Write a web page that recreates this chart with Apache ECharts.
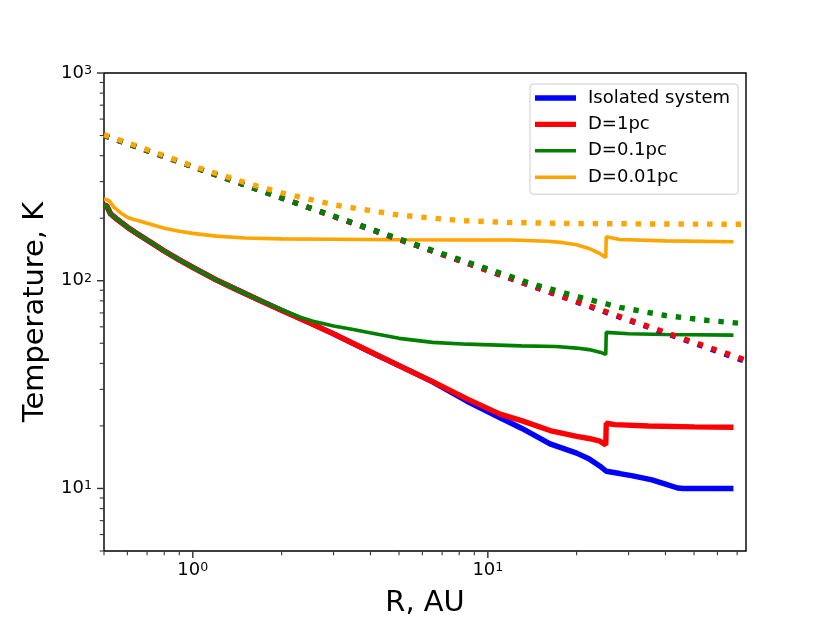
<!DOCTYPE html>
<html>
<head>
<meta charset="utf-8">
<script src="https://cdn.jsdelivr.net/npm/echarts@6/dist/echarts.min.js"></script>
<style>
  html, body { margin: 0; padding: 0; background: #fff; }
  #chart { width: 830px; height: 623px; }
</style>
</head>
<body>
<div id="chart"></div>
<script>
// radius in AU, temperature in K
const rIsolated = [0.5, 0.51, 0.515, 0.526, 0.55, 0.6, 0.65, 0.7, 0.8, 0.9, 1.0, 1.2, 1.4, 1.7, 2.0, 2.5, 3, 4, 5, 6.5, 8.5, 11, 13, 16.25, 20, 22, 24, 25.2, 28, 31, 36, 40, 44, 46, 68];
const tIsolated = [231, 230, 228, 210, 199, 181, 168, 157, 139, 126, 116, 101, 91, 80, 72, 62.5, 55.5, 45.3, 39, 32.6, 26.3, 21.9, 19.5, 16.4, 14.8, 13.9, 12.8, 12.1, 11.8, 11.5, 11.0, 10.5, 10.05, 10.0, 10.0];

const rD1 = [0.5, 0.51, 0.515, 0.526, 0.55, 0.6, 0.65, 0.7, 0.8, 0.9, 1.0, 1.2, 1.4, 1.7, 2.0, 2.5, 3, 4, 5, 6.5, 8.5, 11, 13, 16.25, 20, 22, 24, 25.1, 25.2, 27, 35, 50, 68];
const tD1 = [231, 230, 228, 210, 199, 181, 168, 157, 139, 126, 116, 101, 91, 80, 72, 62.5, 55.5, 45.5, 39, 32.7, 27.0, 22.8, 21.2, 19.0, 17.8, 17.4, 16.9, 16.2, 20.6, 20.3, 20.0, 19.8, 19.7];

const rD01 = [0.5, 0.51, 0.515, 0.526, 0.55, 0.6, 0.65, 0.7, 0.8, 0.9, 1.0, 1.2, 1.4, 1.7, 1.9, 2.1, 2.3, 2.6, 3, 3.5, 3.9, 5, 6.5, 8.5, 13, 17, 20, 22, 24, 25.1, 25.2, 30, 40, 68];
const tD01 = [231, 230, 228, 210, 199, 181, 168, 157, 139, 126, 116, 101, 91, 80.2, 74.8, 70.6, 66.9, 63.4, 60.5, 58.2, 56.5, 52.8, 50.5, 49.5, 48.6, 48.2, 47.4, 46.6, 45.3, 44.2, 56.4, 55.6, 55.1, 54.7];

const rD001 = [0.5, 0.51, 0.52, 0.54, 0.57, 0.6, 0.63, 0.66, 0.7, 0.8, 0.9, 1.0, 1.2, 1.5, 2, 3, 5, 8, 12, 16, 18, 20, 22, 24, 25.1, 25.2, 28, 40, 68];
const tD001 = [247, 246, 243, 226, 212, 202, 197, 194, 189, 179, 173, 169, 164, 160.5, 159, 158.5, 157.5, 157, 157, 155, 152.5, 149, 143, 135, 129.5, 163, 158, 155.5, 154];

// dotted curves
const rIsoDot = [0.5, 1, 2, 5, 10, 20, 30, 50, 75];
const tIsoDot = [500, 354, 250, 158, 112, 79, 64.5, 50, 40.8];
const rD1Dot = [0.5, 1, 2, 5, 10, 20, 30, 50, 75];
const tD1Dot = [500, 354, 250, 158, 112, 79.5, 65, 50.5, 41.5];
const rD01Dot = [0.5, 1, 2, 3, 5, 7, 10, 14, 20, 28, 40, 55, 75];
const tD01Dot = [500, 354, 250, 205, 159, 135, 114, 97, 84, 74.5, 68, 64.5, 62];
const rD001Dot = [0.5, 0.7, 1, 1.5, 2, 3, 5, 8, 12, 20, 40, 75];
const tD001Dot = [505, 428, 357, 297, 265, 232, 207, 195, 190.5, 188.5, 187.5, 187];

const names = ['Isolated system', 'D=1pc', 'D=0.1pc', 'D=0.01pc'];
const colors = ['#0000ff', '#ff0000', '#008000', '#ffa500'];

const xMajorTicks = [1, 10];
const xMinorTicks = [0.5, 0.6, 0.7, 0.8, 0.9, 2, 3, 4, 5, 6, 7, 8, 9, 20, 30, 40, 50, 60, 70];
const yMajorTicks = [10, 100, 1000];
const yMinorTicks = [5, 6, 7, 8, 9, 20, 30, 40, 50, 60, 70, 80, 90, 200, 300, 400, 500, 600, 700, 800, 900];

// legend handles: a bar inside a 41x14 box (the M points keep the box size)
const thickHandle = 'path://M0,0M0,4.3L41,4.3L41,9.7L0,9.7ZM41,14';
const thinHandle = 'path://M0,0M0,5.2L41,5.2L41,8.8L0,8.8ZM41,14';

function zip(r, t) {
  return r.map((v, i) => [v, t[i]]);
}

function curve(name, r, t, color, width, dotted) {
  return {
    name: name,
    type: 'line',
    data: zip(r, t),
    symbol: 'none',
    showSymbol: false,
    lineStyle: {
      color: color,
      width: width,
      type: dotted ? [5.4, 8.9] : 'solid',
      cap: 'butt'
    },
    itemStyle: { color: color },
    silent: true
  };
}

function ticks(vals, onX, len, w) {
  return {
    type: 'scatter',
    data: vals.map(v => onX ? [v, 5] : [0.5, v]),
    symbol: 'rect',
    symbolSize: onX ? [w, len] : [len, w],
    symbolOffset: onX ? [0, len / 2 + 0.7] : [-(len / 2 + 0.7), 0],
    itemStyle: { color: '#000' },
    clip: false,
    silent: true,
    z: 5
  };
}

function powLabel(v) {
  const e = Math.round(Math.log10(v));
  return '{a|10}{b|' + e + '}';
}

const labelRich = {
  a: { fontSize: 18, color: '#000', fontFamily: 'DejaVu Sans' },
  b: { fontSize: 12.6, color: '#000', fontFamily: 'DejaVu Sans', verticalAlign: 'top' }
};

const series = [
  curve(names[0], rIsolated, tIsolated, colors[0], 5.4, false),
  curve(names[1], rD1, tD1, colors[1], 5.4, false),
  curve(names[2], rD01, tD01, colors[2], 3.6, false),
  curve(names[3], rD001, tD001, colors[3], 3.6, false),
  curve('iso dotted', rIsoDot, tIsoDot, colors[0], 5.4, true),
  curve('d1 dotted', rD1Dot, tD1Dot, colors[1], 5.4, true),
  curve('d01 dotted', rD01Dot, tD01Dot, colors[2], 5.4, true),
  curve('d001 dotted', rD001Dot, tD001Dot, colors[3], 5.4, true),
  ticks(xMajorTicks, true, 6.3, 1.44),
  ticks(xMinorTicks, true, 3.6, 1.08),
  ticks(yMajorTicks, false, 6.3, 1.44),
  ticks(yMinorTicks, false, 3.6, 1.08)
];

const chart = echarts.init(document.getElementById('chart'), null, { renderer: 'canvas' });
chart.setOption({
  animation: false,
  backgroundColor: '#fff',
  textStyle: { fontFamily: 'DejaVu Sans' },
  grid: {
    left: 104, right: 84, top: 73, bottom: 68,
    show: true, borderColor: '#000', borderWidth: 1.44
  },
  legend: {
    data: names.map((n, i) => ({
      name: n,
      icon: i < 2 ? thickHandle : thinHandle,
      itemStyle: { color: colors[i] }
    })),
    orient: 'vertical',
    left: 530,
    top: 84,
    itemWidth: 41,
    itemHeight: 14,
    itemGap: 6.4,
    padding: [4, 8, 7, 5],
    backgroundColor: 'rgba(255,255,255,0.8)',
    borderColor: '#cccccc',
    borderWidth: 1,
    borderRadius: 3,
    textStyle: { fontSize: 18, color: '#000', lineHeight: 20, padding: [0, 0, 0, 7], fontFamily: 'DejaVu Sans' }
  },
  xAxis: {
    type: 'log',
    logBase: 10,
    min: 0.5,
    max: 75,
    name: 'R, AU',
    nameLocation: 'middle',
    nameGap: 38,
    nameTextStyle: { fontSize: 28.9, color: '#000', fontFamily: 'DejaVu Sans' },
    axisLine: { show: false },
    axisTick: { show: false },
    splitLine: { show: false },
    axisLabel: {
      margin: 10,
      showMinLabel: false,
      showMaxLabel: false,
      formatter: powLabel,
      rich: labelRich
    }
  },
  yAxis: {
    type: 'log',
    logBase: 10,
    min: 5,
    max: 1000,
    name: 'Temperature, K',
    nameLocation: 'middle',
    nameGap: 53,
    nameTextStyle: { fontSize: 28.9, color: '#000', fontFamily: 'DejaVu Sans' },
    axisLine: { show: false },
    axisTick: { show: false },
    splitLine: { show: false },
    axisLabel: {
      margin: 12,
      showMinLabel: false,
      formatter: powLabel,
      rich: labelRich
    }
  },
  series: series
});
</script>
</body>
</html>
